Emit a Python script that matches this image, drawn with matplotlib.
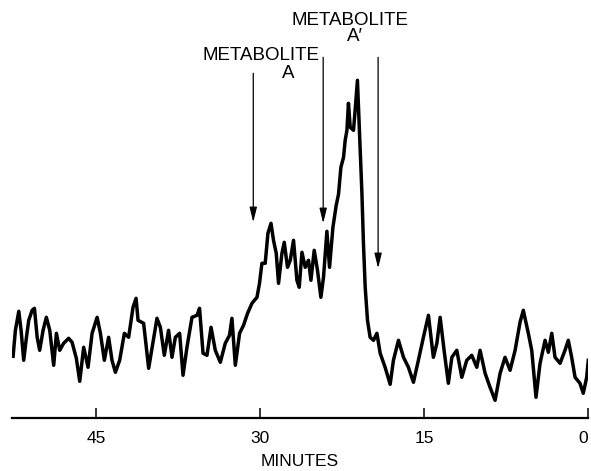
import matplotlib
matplotlib.use("Agg")
import matplotlib.pyplot as plt
from matplotlib.transforms import ScaledTranslation

# retention time (minutes) and detector response (arbitrary units)
minutes = [52.57, 52.36, 52.05, 51.84, 51.60, 51.35, 51.14, 50.83, 50.62, 50.37,
           50.14, 49.83, 49.53, 49.22, 48.86, 48.61, 48.31, 47.95, 47.49, 47.18,
           46.79, 46.48, 46.12, 45.72, 45.35, 44.89, 44.59, 44.23, 43.84, 43.53,
           43.22, 42.83, 42.40, 42.01, 41.61, 41.33, 41.15, 40.64, 40.18, 39.42,
           39.11, 38.75, 38.36, 38.05, 37.74, 37.35, 37.04, 36.68, 36.22, 35.76,
           35.53, 35.21, 34.85, 34.48, 34.09, 33.63, 33.18, 32.79, 32.57, 32.26,
           31.87, 31.51, 31.14, 30.74, 30.28, 30.05, 29.83, 29.53, 29.28, 29.00,
           28.77, 28.52, 28.31, 28.00, 27.79, 27.49, 27.24, 26.94, 26.63, 26.42,
           26.17, 25.87, 25.57, 25.35, 25.05, 24.75, 24.44, 24.20, 23.89, 23.65,
           23.34, 23.04, 22.83, 22.61, 22.37, 22.22, 22.06, 21.92, 21.76, 21.46,
           21.31, 21.10, 21.00, 20.85, 20.69, 20.55, 20.39, 20.18, 19.94, 19.63,
           19.32, 19.02, 18.57, 18.11, 17.81, 17.35, 16.89, 16.44, 15.98, 15.53,
           15.07, 14.61, 14.16, 13.84, 13.54, 13.18, 12.79, 12.47, 12.02, 11.56,
           11.11, 10.65, 10.19, 9.89, 9.43, 8.98, 8.52, 8.06, 7.61, 7.15,
           6.69, 6.24, 5.94, 5.48, 5.17, 4.78, 4.41, 3.95, 3.65, 3.34,
           3.04, 2.58, 2.13, 1.83, 1.52, 1.21, 0.76, 0.46, 0.15, 0.0]
response = [62, 88, 107, 88, 58, 81, 98, 108, 110, 81,
            68, 88, 101, 88, 53, 85, 68, 75, 80, 76,
            60, 37, 71, 51, 85, 101, 85, 58, 81, 58,
            46, 58, 85, 81, 111, 120, 98, 95, 50, 100,
            91, 63, 88, 61, 81, 85, 43, 71, 101, 103,
            110, 65, 63, 91, 68, 56, 75, 83, 100, 53,
            85, 93, 105, 115, 121, 135, 155, 155, 185, 195,
            178, 165, 135, 165, 176, 151, 158, 178, 138, 131,
            166, 151, 158, 138, 168, 148, 121, 141, 187, 151,
            191, 213, 224, 251, 261, 278, 288, 315, 291, 288,
            308, 338, 311, 271, 225, 175, 131, 98, 81, 78,
            85, 65, 51, 34, 58, 78, 61, 51, 36, 58,
            81, 103, 61, 75, 101, 68, 35, 61, 68, 41,
            58, 63, 51, 68, 45, 31, 18, 45, 61, 48,
            68, 96, 108, 85, 68, 21, 55, 78, 66, 85,
            61, 55, 68, 78, 61, 41, 35, 25, 41, 58]

tick_vals = [45, 30, 15, 0]

# peak markers: arrow x, arrow top, arrow tip
marker_x = [30.62, 24.23, 19.21]
marker_top = [345, 361, 361]
marker_tip = [196, 195, 150]

plt.rcParams['font.family'] = ['Liberation Sans', 'DejaVu Sans']

fig = plt.figure(figsize=(5.91, 4.71), dpi=100)
ax = fig.add_axes([12 / 591, 52.7 / 471, 576.3 / 591, 418.3 / 471])

ax.plot(minutes, response, color='black', lw=2.5, solid_joinstyle='round')

for x, top, tip in zip(marker_x, marker_top, marker_tip):
    ax.annotate('', xy=(x, tip), xytext=(x, top),
                arrowprops=dict(arrowstyle='-|>,head_length=0.9,head_width=0.22',
                                color='black', lw=0.9, shrinkA=0, shrinkB=0))

ax.text(29.9, 363, 'METABOLITE', ha='center', va='center', fontsize=13.5)
ax.text(27.47, 345, 'A', ha='center', va='center', fontsize=13.5)
ax.text(21.74, 398, 'METABOLITE', ha='center', va='center', fontsize=13.5)
ax.text(21.3, 382, 'A\u2032', ha='center', va='center', fontsize=13.5)

ax.set_xlim(52.67, 0)
ax.set_ylim(0, 418.3)
ax.set_xticks(tick_vals)
ax.set_xticklabels([str(t) for t in tick_vals])
ax.set_yticks([])
for side in ['top', 'right', 'left']:
    ax.spines[side].set_visible(False)
ax.spines['bottom'].set_linewidth(1.6)
ax.tick_params(axis='x', direction='in', length=7.5, width=1.1, pad=9, labelsize=12.5)
ax.set_xlabel('MINUTES', fontsize=12.5, labelpad=6)

# keep the "0" inside the figure
last = ax.get_xticklabels()[-1]
last.set_transform(last.get_transform() + ScaledTranslation(-5 / 100, 0, fig.dpi_scale_trans))

fig.savefig('out.png', dpi=100)
